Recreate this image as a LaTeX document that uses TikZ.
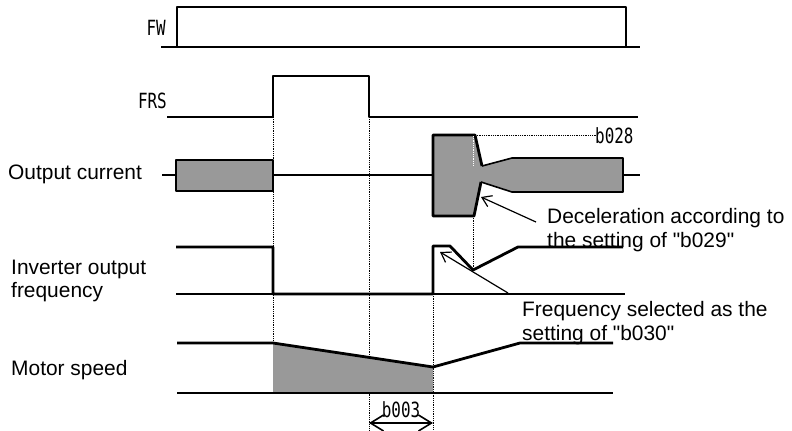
\documentclass[tikz,border=0pt]{standalone}
\usepackage{fontspec}
\usepackage{graphicx}
\setmainfont{Liberation Sans}[Ligatures=TeXOff]
\newfontfamily\gothicfont{DejaVu Sans Mono}
\usetikzlibrary{arrows.meta}
\definecolor{fillgray}{RGB}{153,153,153}
\newcommand{\narrowtxt}[1]{\scalebox{0.76}[1]{#1}}
\tikzset{
  sig/.style={line width=2.8bp, line join=round, line cap=butt},
  thinln/.style={line width=1.1bp},
  guide/.style={line width=0.8bp, densely dotted},
  lbl/.style={inner sep=0pt, font=\fontsize{21}{25}\selectfont},
  nlbl/.style={inner sep=0pt, font=\fontsize{21}{25}\selectfont\gothicfont},
  annarrow/.style={line width=1.2bp, -{Straight Barb[length=9bp,width=12bp]}},
}
\begin{document}
\begin{tikzpicture}[x=1bp,y=-1bp]
\useasboundingbox (0,0) rectangle (792,430);

% guide lines
\draw[guide] (273,117) -- (273,393);
\draw[guide] (369,117) -- (369,430);
\draw[guide] (433,294) -- (433,430);
\draw[guide] (473,216) -- (473,268);
\draw[guide] (475,135) -- (597,135);

% FW
\draw[thinln] (177,47) -- (626,47);
\draw[sig] (161,47) -- (177,47) -- (177,7) -- (626,7) -- (626,47) -- (640,47);
\node[nlbl, anchor=base east] (fw) at (166,35) {\narrowtxt{FW}};

% FRS
\draw[sig] (167,117) -- (273,117) -- (273,76) -- (369,76) -- (369,117) -- (638,117);
\node[nlbl, anchor=base east] (frs) at (167,108) {\narrowtxt{FRS}};

% Output current
\draw[sig] (162,175) -- (176,175);
\draw[sig] (273,175) -- (433,175);
\draw[sig] (623,175) -- (640,175);
\draw[sig, fill=fillgray] (176,160) rectangle (273,191);
\fill[fillgray] (433,135) -- (475,135) -- (482,166) -- (512,158) -- (623,158) -- (623,192)
  -- (512,192) -- (481,182) -- (474,216) -- (433,216) -- cycle;
\draw[sig] (482,166) -- (475,135) -- (433,135) -- (433,216) -- (474,216) -- (481,182);
\draw[sig] (512,158) -- (623,158) -- (623,192) -- (512,192);
\draw[line width=1.6bp] (482,166) -- (512,158);
\draw[line width=1.6bp] (481,182) -- (512,192);
\draw[line width=0.8bp, densely dotted, white] (473,136) -- (473,166);
\node[lbl, anchor=base west] (oc) at (8,179) {Output current};
\node[nlbl, anchor=base west] (b028) at (595,143) {\narrowtxt{b028}};

% Inverter output frequency
\draw[thinln] (176,294) -- (625,294);
\draw[sig] (176,247) -- (273,247) -- (273,294) -- (433,294) -- (433,246) -- (450,246)
  -- (473,270) -- (518,247) -- (623,247);
\node[lbl, anchor=base west] (iof1) at (11,274) {Inverter output};
\node[lbl, anchor=base west] (iof2) at (11,297) {frequency};

% Motor speed
\fill[fillgray] (273,343) -- (433,367) -- (433,393) -- (273,393) -- cycle;
\draw[sig] (177,343) -- (273,343) -- (433,367) -- (520,343) -- (613,343);
\draw[sig] (177,393) -- (613,393);
\node[lbl, anchor=base west] (ms) at (11,375) {Motor speed};

% b003
\coordinate (b3a) at (369,423);
\coordinate (b3b) at (433,423);
\draw[line width=1.6bp, {Straight Barb[length=13bp,width=16bp]}-{Straight Barb[length=13bp,width=16bp]}] (b3a) -- (b3b);
\node[nlbl, anchor=base] (b003) at (401,417) {\narrowtxt{b003}};

% annotations
\node[lbl, anchor=base west] (dec1) at (547,223) {Deceleration according to};
\node[lbl, anchor=base west] (dec2) at (547,247) {the setting of "b029"};
\coordinate (decstart) at (536,222);
\coordinate (dectip) at (481,197);
\draw[annarrow] (decstart) -- (dectip);

\node[lbl, anchor=base west] (frq1) at (522,316) {Frequency selected as the};
\node[lbl, anchor=base west] (frq2) at (522,340) {setting of "b030"};
\coordinate (frqstart) at (508,293);
\coordinate (frqtip) at (440,252);
\draw[annarrow] (frqstart) -- (frqtip);
\end{tikzpicture}
\end{document}
